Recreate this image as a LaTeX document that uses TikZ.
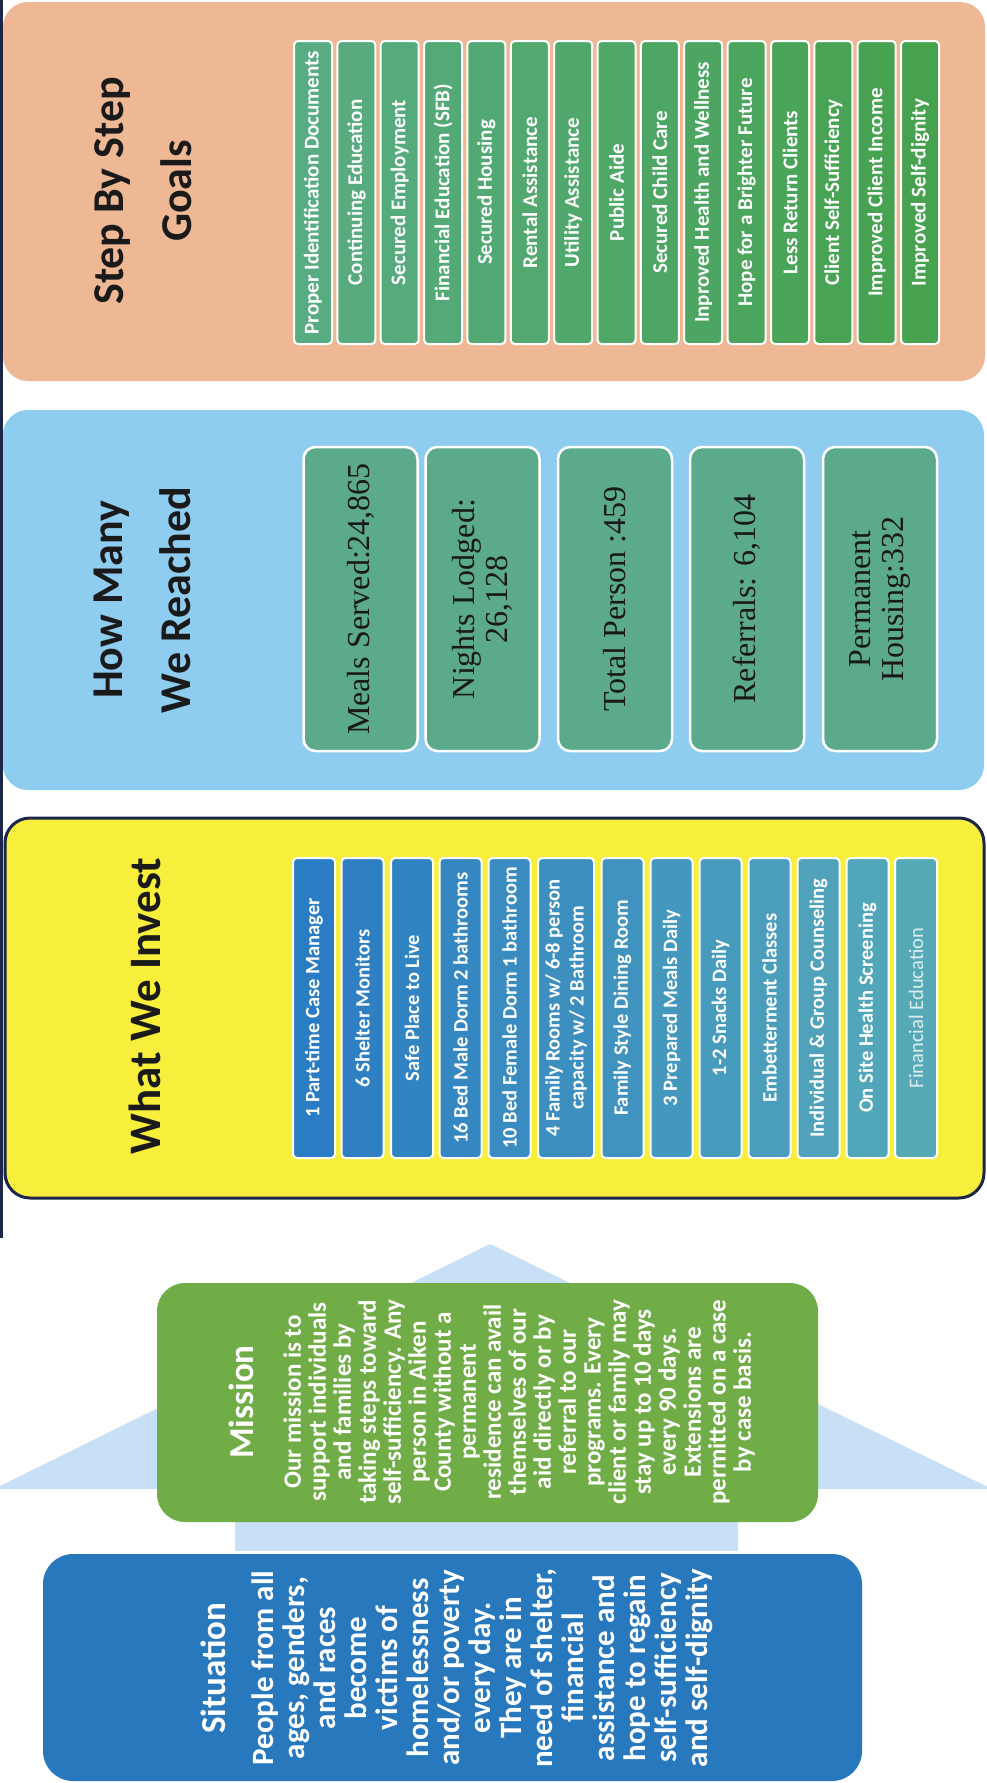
\documentclass[tikz,border=0pt]{standalone}
\usepackage{fontspec}
\setmainfont{Carlito}
\newfontfamily\numfont{Liberation Serif}
\definecolor{goalsbg}{RGB}{238,184,148}
\definecolor{reachbg}{RGB}{142,204,240}
\definecolor{investbg}{RGB}{248,238,60}
\definecolor{navyline}{RGB}{28,38,72}
\definecolor{goalA}{RGB}{88,172,130}
\definecolor{goalB}{RGB}{70,162,78}
\definecolor{reachbox}{RGB}{92,170,140}
\definecolor{investA}{RGB}{42,124,196}
\definecolor{investB}{RGB}{86,170,184}
\definecolor{housebg}{RGB}{200,224,245}
\definecolor{missiongreen}{RGB}{112,173,71}
\definecolor{situationblue}{RGB}{40,120,190}
\definecolor{titlecol}{RGB}{26,26,26}
\tikzset{
    treenode/.style = {rotate=90, align=center, inner sep=0pt},
    % Panel Title
    node_title/.style = {treenode, anchor=north, text=titlecol, font=\bfseries\fontsize{44}{68}\selectfont},
    % Goal Bar
    node_goal/.style = {treenode, draw=white, line width=2pt, rounded corners=4pt, fill=goalA!#1!goalB, text=white,
        font=\bfseries\fontsize{21}{24}\selectfont, minimum width=303pt, minimum height=38pt},
    % Reach Box
    node_reach/.style = {treenode, draw=white, line width=2.5pt, rounded corners=12pt, fill=reachbox, text=black!90,
        font=\numfont\fontsize{32}{33}\selectfont, minimum width=304pt, minimum height=114pt},
    % Invest Bar
    node_invest/.style = {treenode, draw=white, line width=2pt, rounded corners=4pt, fill=investA!#1!investB, text=white,
        font=\bfseries\fontsize{20.5}{24}\selectfont, minimum width=300pt, minimum height=42pt},
    % House Text
    node_head/.style = {treenode, text=white, font=\bfseries\fontsize{35}{40}\selectfont},
    node_body/.style = {treenode, anchor=north, text=white, font=\bfseries\fontsize{#1}{#1}\selectfont}
}

\begin{document}
\begin{tikzpicture}[x=1pt, y=-1pt]

    \useasboundingbox (0,0) rectangle (986,1783);
    \fill[white] (0,0) rectangle (986,1783);

    % panels
    \fill[goalsbg, rounded corners=25] (3,2) rectangle (985,381);
    \fill[reachbg, rounded corners=25] (3,410) rectangle (984,790);
    \draw[navyline, line width=3pt, fill=investbg, rounded corners=25] (5,818) rectangle (984,1198);
    \fill[navyline] (0,0) rectangle (3,1238);

    % house
    \fill[housebg] (-6,1489) -- (490,1244) -- (992,1489) -- cycle;
    \fill[housebg] (235,1480) rectangle (738,1551);
    \fill[missiongreen, rounded corners=28] (157,1283) rectangle (818,1522);
    \fill[situationblue, rounded corners=30] (43,1554) rectangle (862,1781);

    % Step By Step Goals
    \node[node_title] (title_goals) at (94,191) {Step By Step\\Goals};
    \node[node_goal=100] (goal1) at (313,192.5) {Proper Identification Documents};
    \node[node_goal=93] (goal2) at (356.4,192.5) {Continuing Education};
    \node[node_goal=86] (goal3) at (399.7,192.5) {Secured Employment};
    \node[node_goal=79] (goal4) at (443.1,192.5) {Financial Education (SFB)};
    \node[node_goal=71] (goal5) at (486.4,192.5) {Secured Housing};
    \node[node_goal=64] (goal6) at (529.8,192.5) {Rental Assistance};
    \node[node_goal=57] (goal7) at (573.2,192.5) {Utility Assistance};
    \node[node_goal=50] (goal8) at (616.5,192.5) {Public Aide};
    \node[node_goal=43] (goal9) at (659.9,192.5) {Secured Child Care};
    \node[node_goal=36] (goal10) at (703.2,192.5) {Inproved Health and Wellness};
    \node[node_goal=29] (goal11) at (746.6,192.5) {Hope for a Brighter Future};
    \node[node_goal=21] (goal12) at (790,192.5) {Less Return Clients};
    \node[node_goal=14] (goal13) at (833.3,192.5) {Client Self-Sufficiency};
    \node[node_goal=7] (goal14) at (876.7,192.5) {Improved Client Income};
    \node[node_goal=0] (goal15) at (920,192.5) {Improved Self-dignity};

    % How Many We Reached
    \node[node_title] (title_reach) at (94,600) {How Many\\We Reached};
    \node[node_reach] (reach1) at (360.5,599) {Meals Served:24,865};
    \node[node_reach] (reach2) at (482.5,599) {Nights Lodged:\\26,128};
    \node[node_reach] (reach3) at (615,599) {Total Person :459};
    \node[node_reach] (reach4) at (747,599) {Referrals: 6,104};
    \node[node_reach] (reach5) at (880,599) {Permanent\\Housing:332};

    % What We Invest
    \node[node_title, font=\bfseries\fontsize{45}{68}\selectfont] (title_invest) at (129,1006) {What We Invest};
    \node[node_invest=100] (invest1) at (314,1008) {1 Part-time Case Manager};
    \node[node_invest=92] (invest2) at (362.5,1008) {6 Shelter Monitors};
    \node[node_invest=83] (invest3) at (412,1008) {Safe Place to Live};
    \node[node_invest=75] (invest4) at (460.5,1008) {16 Bed Male Dorm 2 bathrooms};
    \node[node_invest=67] (invest5) at (509.5,1008) {10 Bed Female Dorm 1 bathroom};
    \node[node_invest=58, minimum height=56pt] (invest6) at (566,1008) {4 Family Rooms w/ 6-8 person\\capacity w/ 2 Bathroom};
    \node[node_invest=50] (invest7) at (622.5,1008) {Family Style Dining Room};
    \node[node_invest=42] (invest8) at (671.5,1008) {3 Prepared Meals Daily};
    \node[node_invest=33] (invest9) at (720.5,1008) {1-2 Snacks Daily};
    \node[node_invest=25] (invest10) at (769.5,1008) {Embetterment Classes};
    \node[node_invest=17] (invest11) at (818.5,1008) {Individual \& Group Counseling};
    \node[node_invest=8] (invest12) at (867.5,1008) {On Site Health Screening};
    \node[node_invest=0, text=white!80!investB, font=\fontsize{20.5}{24}\selectfont] (invest13) at (916,1008) {Financial Education};

    % Mission
    \node[node_head] (mission_head) at (241,1402) {Mission};
    \node[node_body=25] (mission_text) at (283,1402) {Our mission is to\\support individuals\\and families by\\taking steps toward\\self-sufficiency. Any\\person in Aiken\\County without a\\permanent\\residence can avail\\themselves of our\\aid directly or by\\referral to our\\programs. Every\\client or family may\\stay up to 10 days\\every 90 days.\\Extensions are\\permitted on a case\\by case basis.};

    % Situation
    \node[node_head] (situation_head) at (213,1668) {Situation};
    \node[node_body=31] (situation_text) at (252,1668) {People from all\\ages, genders,\\and races\\become\\victims of\\homelessness\\and/or poverty\\every day.\\They are in\\need of shelter,\\financial\\assistance and\\hope to regain\\self-sufficiency\\and self-dignity};

\end{tikzpicture}
\end{document}
